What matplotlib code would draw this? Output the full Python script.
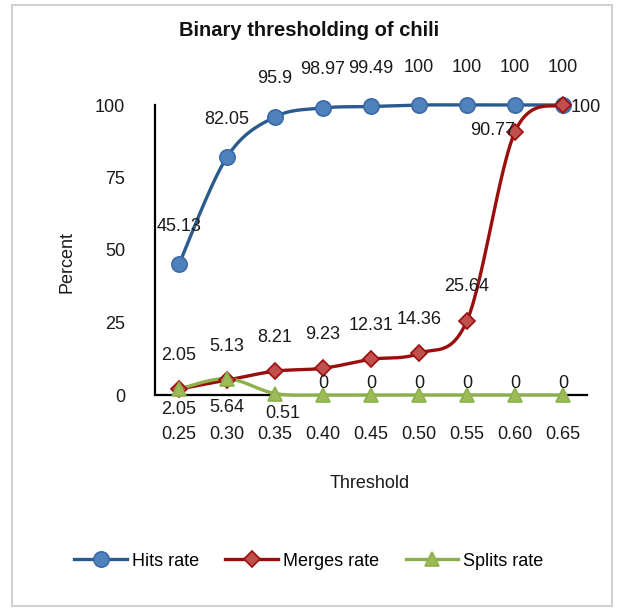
import numpy as np
import matplotlib
matplotlib.use("Agg")
import matplotlib.pyplot as plt
from matplotlib.patches import Rectangle

thresholds = ["0.25", "0.30", "0.35", "0.40", "0.45", "0.50", "0.55", "0.60", "0.65"]
hits = [45.13, 82.05, 95.9, 98.97, 99.49, 100, 100, 100, 100]
merges = [2.05, 5.13, 8.21, 9.23, 12.31, 14.36, 25.64, 90.77, 100]
splits = [2.05, 5.64, 0.51, 0, 0, 0, 0, 0, 0]

plt.rcParams['font.family'] = ['Liberation Sans', 'DejaVu Sans']

W, H = 619, 608
FS = 13
fig = plt.figure(figsize=(W / 100, H / 100), dpi=100)
fig.patches.append(Rectangle((12 / W, 1 - 606 / H), 600 / W, 601 / H, transform=fig.transFigure,
                             fill=False, edgecolor='#d0d0d0', linewidth=1.5))

ax = fig.add_axes([155 / W, 1 - 395 / H, (587 - 155) / W, (395 - 105) / H])
x = np.arange(len(thresholds))


def smooth(xs, ys, sx=48.0, sy=2.9, n=30):
    X = np.asarray(xs, float) * sx
    Y = np.asarray(ys, float) * sy
    P = np.column_stack([X, Y])
    out = [P[0]]
    m = len(P)
    for i in range(m - 1):
        p0 = P[i - 1] if i > 0 else P[i]
        p1 = P[i]
        p2 = P[i + 1]
        p3 = P[i + 2] if i + 2 < m else P[i + 1]
        c1 = p1 + (p2 - p0) / 6.0
        c2 = p2 - (p3 - p1) / 6.0
        t = np.linspace(0, 1, n)[1:, None]
        seg = ((1 - t) ** 3) * p1 + 3 * ((1 - t) ** 2) * t * c1 + 3 * (1 - t) * t ** 2 * c2 + t ** 3 * p2
        out.extend(seg)
    out = np.array(out)
    return out[:, 0] / sx, out[:, 1] / sy


series = [
    (hits, 'Hits rate', '#2A5A8E', 'o', '#4F81BD', '#3A6BA5', 11),
    (merges, 'Merges rate', '#9B0E0E', 'D', '#C0504D', '#9B0E0E', 8),
    (splits, 'Splits rate', '#8DB04A', '^', '#9BBB59', '#8DB04A', 10),
]
for vals, name, lc, mk, mfc, mec, ms in series:
    sxv, syv = smooth(x, vals)
    ax.plot(sxv, syv, color=lc, lw=2.4, solid_capstyle='round', clip_on=False, zorder=3)
    ax.plot(x, vals, ls='none', marker=mk, ms=ms, mfc=mfc, mec=mec, mew=1.2, clip_on=False, zorder=4)
    ax.plot([], [], color=lc, lw=2.4, marker=mk, ms=ms, mfc=mfc, mec=mec, mew=1.2, label=name)

lab_kw = dict(textcoords='offset pixels', ha='center', va='center', fontsize=FS, color='#1a1a1a', zorder=6)


def fmt(v):
    return f"{v:g}"


for i, v in enumerate(hits):
    ax.annotate(fmt(v), (x[i], v), xytext=(0, 38), **lab_kw)
for i, v in enumerate(merges):
    if i == len(merges) - 2:
        ax.annotate(fmt(v), (x[i], v), xytext=(-22, 1), **lab_kw)
    elif i == len(merges) - 1:
        ax.annotate(fmt(v), (x[i], v), xytext=(23, -2), **lab_kw)
    else:
        ax.annotate(fmt(v), (x[i], v), xytext=(0, 34), **lab_kw)
for i, v in enumerate(splits):
    if v > 0:
        ax.annotate(fmt(v), (x[i], v), xytext=(8 if v < 1 else 0, -20 if v < 5 else -29), **lab_kw)
    else:
        ax.annotate(fmt(v), (x[i], v), xytext=(0, 12), **lab_kw)

ax.set_xlim(-0.5, len(thresholds) - 0.5)
ax.set_ylim(0, 100)
ax.set_xticks(x)
ax.set_xticklabels(thresholds)
ax.set_yticks([0, 25, 50, 75, 100])
ax.tick_params(axis='both', length=0, labelsize=FS, colors='#1a1a1a')
ax.tick_params(axis='y', pad=21.5)
ax.tick_params(axis='x', pad=22.5)
for s in ['top', 'right']:
    ax.spines[s].set_visible(False)
for s in ['left', 'bottom']:
    ax.spines[s].set_linewidth(1.6)
    ax.spines[s].set_color('black')
ax.patch.set_alpha(0)

fig.text(309 / W, 1 - 31 / H, 'Binary thresholding of chili', ha='center', va='center',
         fontsize=14.5, fontweight='bold', color='#111111')
fig.text(67 / W, 1 - 262 / H, 'Percent', rotation=90, ha='center', va='center', fontsize=FS, color='#1a1a1a')
fig.text(370 / W, 1 - 483 / H, 'Threshold', ha='center', va='center', fontsize=FS, color='#1a1a1a')

fig.legend(loc='center', bbox_to_anchor=(309 / W, 1 - 561 / H), ncol=3, frameon=False,
           fontsize=FS, handlelength=2.9, handletextpad=0.3, columnspacing=1.45)

fig.savefig('out.png', dpi=100)
